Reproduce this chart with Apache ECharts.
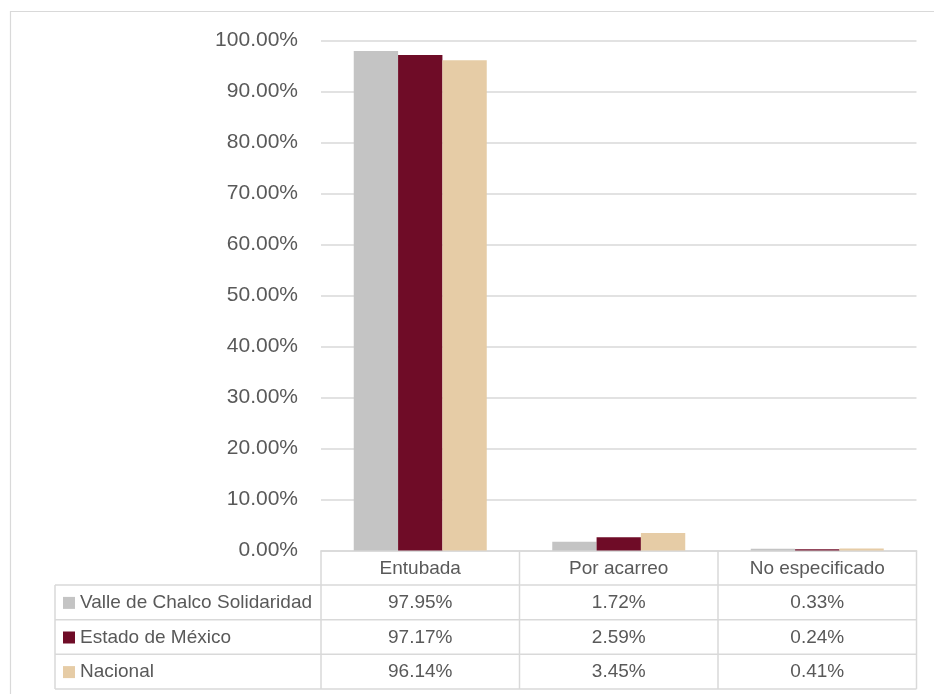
<!DOCTYPE html>
<html>
<head>
<meta charset="utf-8">
<script src="https://cdn.jsdelivr.net/npm/echarts@6/dist/echarts.min.js"></script>
<style>
html,body{margin:0;padding:0;background:#fff;}
#main{width:934px;height:694px;}
</style>
</head>
<body>
<div id="main"></div>
<script>
const categories = ['Entubada', 'Por acarreo', 'No especificado'];
const seriesNames = ['Valle de Chalco Solidaridad', 'Estado de México', 'Nacional'];
const valleChalco = [97.95, 1.72, 0.33];
const estadoMexico = [97.17, 2.59, 0.24];
const nacional = [96.14, 3.45, 0.41];
const seriesColors = ['#C4C4C4', '#6F0C27', '#E6CCA6'];
const yMin = 0, yMax = 100, yStep = 10;

const seriesValues = [valleChalco, estadoMexico, nacional];
const FONT = 'Liberation Sans, Arial, sans-serif';
const TXT = '#595959';
const LINE = '#d9d9d9';

const chart = echarts.init(document.getElementById('main'), null, {renderer: 'canvas'});
chart.setOption({
  animation: false,
  grid: {left: 321, right: 17.5, top: 40.5, bottom: 143.5, containLabel: false},
  xAxis: {
    type: 'category',
    data: categories,
    axisLabel: {show: false},
    axisTick: {show: false},
    axisLine: {show: true, lineStyle: {color: LINE, width: 1.5}}
  },
  yAxis: {
    type: 'value',
    min: yMin, max: yMax, interval: yStep,
    axisLine: {show: false},
    axisTick: {show: false},
    splitLine: {lineStyle: {color: LINE, width: 1.5}},
    axisLabel: {
      formatter: v => v.toFixed(2) + '%',
      color: TXT, fontFamily: FONT, fontSize: 21, margin: 23
    }
  },
  series: seriesNames.map((n, i) => ({
    name: n,
    type: 'bar',
    data: seriesValues[i],
    barGap: '0%',
    barCategoryGap: '33%',
    itemStyle: {color: seriesColors[i]}
  }))
});

// Data table below the chart, positioned from the axes
const c0 = chart.convertToPixel({xAxisIndex: 0}, categories[0]);
const c1 = chart.convertToPixel({xAxisIndex: 0}, categories[1]);
const band = c1 - c0;
const yZero = chart.convertToPixel({yAxisIndex: 0}, 0);
const plotLeft = c0 - band / 2;
const plotRight = plotLeft + band * categories.length;
const rowH = 34.6;
const labelLeft = 55;
const tableBottom = yZero + rowH * (seriesNames.length + 1);

const g = [];
const line = (x1, y1, x2, y2) => g.push({type: 'line', shape: {x1, y1, x2, y2}, style: {stroke: LINE, lineWidth: 1.5}, silent: true});

// outer border
g.push({type: 'rect', shape: {x: 10.5, y: 11.5, width: 940, height: 700}, style: {fill: null, stroke: LINE, lineWidth: 1.2}, silent: true});

// horizontal lines
for (let r = 1; r <= seriesNames.length + 1; r++) {
  line(labelLeft, yZero + rowH * r, plotRight, yZero + rowH * r);
}
// vertical lines
line(labelLeft, yZero + rowH, labelLeft, tableBottom);
for (let c = 0; c <= categories.length; c++) {
  const x = plotLeft + band * c;
  line(x, yZero, x, tableBottom);
}
const TF = '19px ' + FONT;
// header texts
categories.forEach((cat, c) => {
  g.push({type: 'text', x: chart.convertToPixel({xAxisIndex: 0}, cat), y: yZero + rowH / 2 + 1,
    style: {text: cat, fill: TXT, font: TF, textAlign: 'center', textVerticalAlign: 'middle'}});
});
// rows
seriesNames.forEach((n, r) => {
  const yc = yZero + rowH * (r + 1.5) + 0.5;
  g.push({type: 'rect', shape: {x: 63, y: yc - 6, width: 12, height: 12}, style: {fill: seriesColors[r]}});
  g.push({type: 'text', x: 80, y: yc,
    style: {text: n, fill: TXT, font: TF, textAlign: 'left', textVerticalAlign: 'middle'}});
  categories.forEach((cat, c) => {
    g.push({type: 'text', x: chart.convertToPixel({xAxisIndex: 0}, cat), y: yc,
      style: {text: seriesValues[r][c].toFixed(2) + '%', fill: TXT, font: TF, textAlign: 'center', textVerticalAlign: 'middle'}});
  });
});
chart.setOption({graphic: g});
</script>
</body>
</html>
